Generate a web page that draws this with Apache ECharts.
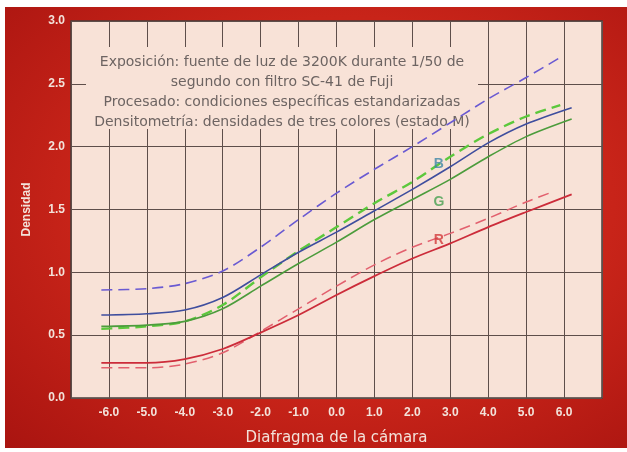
<!DOCTYPE html>
<html>
<head>
<meta charset="utf-8">
<script src="https://cdn.jsdelivr.net/npm/echarts@6/dist/echarts.min.js"></script>
<style>
html,body{margin:0;padding:0;background:#ffffff;}
#wrap{position:relative;width:627px;height:452px;overflow:hidden;background:#fff;}
#bg{position:absolute;left:5px;top:7px;width:622px;height:441px;
  background:radial-gradient(ellipse at 55% 45%, #d2301f 0%, #c82419 55%, #a91410 100%);}
#chart{position:absolute;left:0;top:0;width:627px;height:452px;}
</style>
</head>
<body>
<div id="wrap"><div id="bg"></div><div id="chart"></div></div>
<script>
// Data
const xFull = [-6.2, -5, -4, -3, -2, -1, 0, 1, 2, 3, 4, 5, 6.2];
const xShort = [-6.2, -5, -4, -3, -2, -1, 0, 1, 2, 3, 4, 5, 5.9];
const xRedDashed = [-6.2, -5, -4, -3, -2, -1, 0, 1, 2, 3, 4, 5, 5.7];
const blueDashed = [0.86, 0.87, 0.91, 1.01, 1.20, 1.42, 1.63, 1.82, 2.00, 2.19, 2.38, 2.55, 2.71];
const blueSolid = [0.66, 0.67, 0.70, 0.80, 0.98, 1.16, 1.32, 1.49, 1.66, 1.84, 2.03, 2.18, 2.31];
const greenDashed = [0.55, 0.57, 0.61, 0.74, 0.96, 1.17, 1.36, 1.55, 1.72, 1.92, 2.10, 2.24, 2.33];
const greenSolid = [0.57, 0.58, 0.61, 0.71, 0.89, 1.07, 1.24, 1.42, 1.58, 1.74, 1.92, 2.08, 2.22];
const redSolid = [0.28, 0.28, 0.31, 0.39, 0.52, 0.66, 0.82, 0.97, 1.11, 1.23, 1.36, 1.48, 1.62];
const redDashed = [0.24, 0.24, 0.27, 0.36, 0.53, 0.71, 0.89, 1.06, 1.20, 1.31, 1.43, 1.56, 1.64];
const curveLabels = ['B', 'G', 'R'];
const curveLabelPos = [[2.7, 1.86], [2.7, 1.56], [2.7, 1.26]];
const noteLines = [
  'Exposición: fuente de luz de 3200K durante 1/50 de',
  'segundo con filtro SC-41 de Fuji',
  'Procesado: condiciones específicas estandarizadas',
  'Densitometría: densidades de tres colores (estado M)'
];
const yName = 'Densidad';
const xName = 'Diafragma de la cámara';

function pairs(xs, ys){ return xs.map((x,i)=>[x, ys[i]]); }

const chart = echarts.init(document.getElementById('chart'), null, {renderer:'canvas'});
const labelColor = '#f3e2da';
const gridColor = '#5e4e4a';

function lineSeries(name, xs, ys, color, dashed, width){
  return {
    name, type:'line', smooth:0.3, showSymbol:false, symbol:'none',
    data: pairs(xs, ys),
    lineStyle:{color, width, type: dashed ? [11,6] : 'solid'},
    z:3
  };
}

const option = {
  backgroundColor:'transparent',
  animation:false,
  grid:{left:71, right:25, top:21, bottom:54, show:true,
        backgroundColor:'#f8e2d7', borderColor:'#4a3c3a', borderWidth:1.5},
  xAxis:{
    type:'value', min:-7, max:7, interval:1,
    name:xName, nameLocation:'middle', nameGap:33,
    nameTextStyle:{color:labelColor, fontSize:15, fontFamily:'"DejaVu Sans", sans-serif'},
    axisLine:{show:false}, axisTick:{show:false},
    axisLabel:{color:labelColor, fontSize:12, fontWeight:'bold', margin:9,
      fontFamily:'Liberation Sans, Arial, sans-serif',
      formatter:v => (v <= -7 || v >= 7) ? '' : v.toFixed(1)},
    splitLine:{show:true, lineStyle:{color:gridColor, width:1}}
  },
  yAxis:{
    type:'value', min:0, max:3, interval:0.5,
    name:yName, nameLocation:'middle', nameGap:38, nameRotate:90,
    nameTextStyle:{color:labelColor, fontSize:12, fontWeight:'bold', fontFamily:'Liberation Sans, Arial, sans-serif'},
    axisLine:{show:false}, axisTick:{show:false},
    axisLabel:{color:labelColor, fontSize:12, fontWeight:'bold', margin:6,
      fontFamily:'Liberation Sans, Arial, sans-serif',
      formatter:v => v.toFixed(1)},
    splitLine:{show:true, lineStyle:{color:gridColor, width:1}}
  },
  graphic:[
    {type:'rect', z:1, shape:{x:86, y:47, width:392, height:82}, style:{fill:'#f8e2d7'}},
    {type:'group', z:1, children: noteLines.map((t,i)=>({
      type:'text', x:282, y:62 + i*20, z:1,
      style:{text:t, fill:'#6d6462', font:'14px "DejaVu Sans", sans-serif',
             textAlign:'center', textVerticalAlign:'middle'}
    }))}
  ],
  series:[
    lineSeries('Bd', xShort, blueDashed, '#6a5ad2', true, 1.6),
    lineSeries('Gd', xShort, greenDashed, '#5cc83c', true, 2.4),
    lineSeries('Bs', xFull, blueSolid, '#3f4e9e', false, 1.6),
    lineSeries('Gs', xFull, greenSolid, '#4c9c3c', false, 1.6),
    lineSeries('Rd', xRedDashed, redDashed, '#e2606e', true, 1.5),
    lineSeries('Rs', xFull, redSolid, '#cc2c3a', false, 1.8),
    {
      type:'scatter', symbolSize:0, z:4,
      data: curveLabels.map((l,i)=>({value:curveLabelPos[i], name:l})),
      label:{show:true, position:'inside', fontSize:14, fontWeight:'bold',
        fontFamily:'Liberation Sans, Arial, sans-serif',
        formatter:p=>p.name, color:'#3d86a6'}
    }
  ]
};
option.series[6].data[0].label = {color:'#3d86a6'};
option.series[6].data[1].label = {color:'#46a050'};
option.series[6].data[2].label = {color:'#d23a3a'};
chart.setOption(option);
</script>
</body>
</html>
